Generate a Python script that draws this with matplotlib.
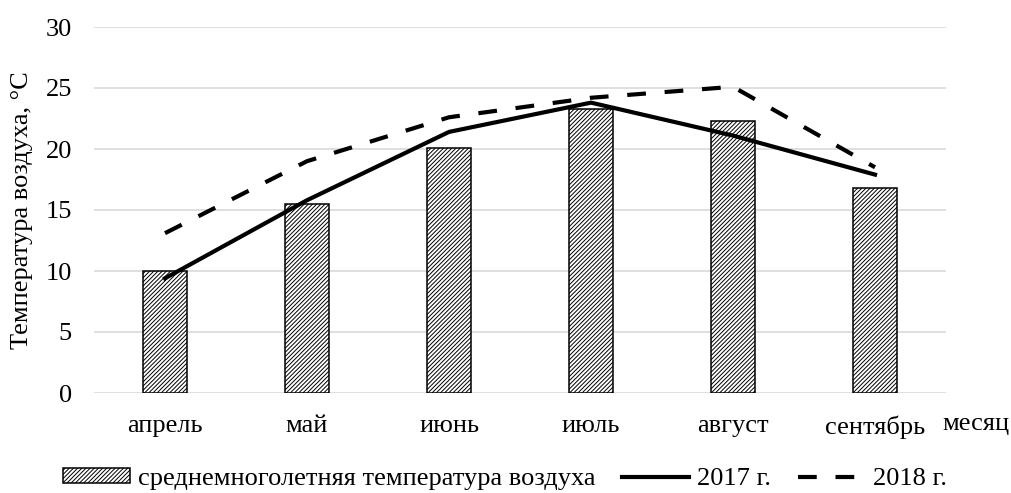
import matplotlib
matplotlib.use("Agg")
import matplotlib.pyplot as plt
import numpy as np

months = ["апрель", "май", "июнь", "июль", "август", "сентябрь"]
avg_longterm = [10.0, 15.5, 20.1, 23.3, 22.3, 16.8]
t2017 = [9.4, 15.8, 21.4, 23.8, 21.1, 17.9]
t2018 = [13.1, 19.0, 22.6, 24.2, 25.1, 18.5]
yticks = [0, 5, 10, 15, 20, 25, 30]

plt.rcParams['font.family'] = ['Liberation Serif', 'DejaVu Serif']
plt.rcParams['hatch.linewidth'] = 0.7
plt.rcParams['hatch.color'] = '#333333'

FS = 19

fig = plt.figure(figsize=(10.11, 4.93), dpi=100)
ax = fig.add_axes([94/1011, 1 - 393/493, (946 - 94)/1011, (393 - 27)/493])

x = np.arange(len(months))
bars = ax.bar(x, avg_longterm, width=0.31, color='white', edgecolor='black',
              linewidth=1.1, hatch='////////', zorder=2,
              label='среднемноголетняя температура воздуха')
l1, = ax.plot(x, t2017, color='black', linewidth=3.0, zorder=3, label='2017 г.')
l2, = ax.plot(x, t2018, color='black', linewidth=3.0, dashes=(4.5, 4.5),
              zorder=3, label='2018 г.')

ax.set_xlim(-0.5, len(months) - 0.5)
ax.set_ylim(0, 30)
ax.set_yticks(yticks)
ax.set_xticks(x)
ax.set_xticklabels(months)
ax.tick_params(axis='both', length=0, labelsize=FS)
ax.tick_params(axis='y', pad=16)
ax.tick_params(axis='x', pad=16)
ax.grid(axis='y', color='#d9d9d9', linewidth=1.2, zorder=0)
ax.set_axisbelow(True)
for s in ax.spines.values():
    s.set_visible(False)

ax.set_ylabel('Температура воздуха, °С', fontsize=FS, labelpad=9)
fig.text(942/1011, 1 - 424/493, 'месяц', fontsize=FS, ha='left', va='center')

fig.legend(handles=[bars, l1, l2], loc='center', bbox_to_anchor=(505/1011, 1 - 479/493),
           ncol=3, frameon=False, fontsize=FS, handlelength=2.55, handletextpad=0.3,
           columnspacing=1.0, handleheight=0.5)

fig.savefig('out.png', dpi=100)
